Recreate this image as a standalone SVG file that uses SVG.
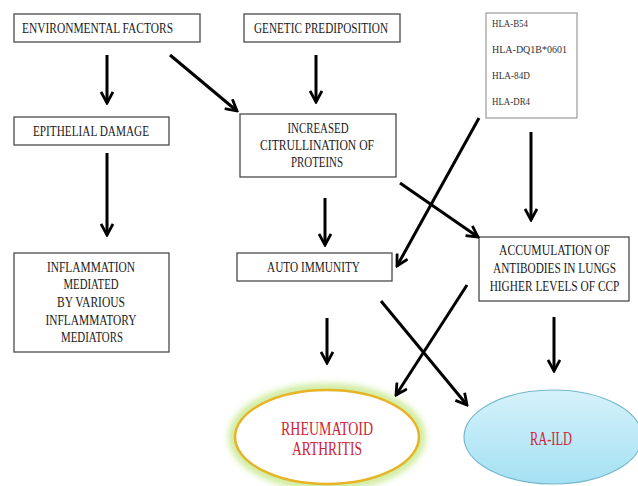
<svg xmlns="http://www.w3.org/2000/svg" width="638" height="486" viewBox="0 0 638 486">
<defs>
<style>
.box{fill:#fff;stroke:#4a4a4a;stroke-width:1.3}
.hla{fill:#fff;stroke:#9a9a9a;stroke-width:1.2}
.t{font-family:"Liberation Serif","Times New Roman",serif;font-size:15px;fill:#1a1a1a;text-anchor:middle}
.h{font-family:"Liberation Serif","Times New Roman",serif;font-size:11px;fill:#333}
.r{font-family:"Liberation Serif","Times New Roman",serif;font-size:19px;fill:#cc2436;text-anchor:middle}
.c line{stroke:#000;stroke-width:3;marker-end:url(#ah)}
</style>
<marker id="ah" viewBox="0 0 14 14" refX="12" refY="7" markerWidth="14" markerHeight="14" markerUnits="userSpaceOnUse" orient="auto">
<path d="M1,1 L12,7 L1,13" fill="none" stroke="#000" stroke-width="2.8"/>
</marker>
<linearGradient id="blue" x1="0" y1="0" x2="0" y2="1">
<stop offset="0" stop-color="#d6f2fb"/>
<stop offset="1" stop-color="#a4e1f3"/>
</linearGradient>
<filter id="glow" x="-20%" y="-20%" width="140%" height="140%">
<feGaussianBlur stdDeviation="3"/>
</filter>
</defs>
<rect width="638" height="486" fill="#fff"/>

<g id="env">
<rect class="box" x="14" y="14" width="186" height="28"/>
<text class="t" x="97.5" y="33" textLength="151" lengthAdjust="spacingAndGlyphs">ENVIRONMENTAL  FACTORS</text>
</g>
<g id="gen">
<rect class="box" x="244" y="14" width="156" height="28"/>
<text class="t" x="321" y="33" textLength="134" lengthAdjust="spacingAndGlyphs">GENETIC  PREDIPOSITION</text>
</g>
<g id="hla">
<rect class="hla" x="486" y="13" width="91" height="105"/>
<text class="h" x="492" y="27" textLength="36" lengthAdjust="spacingAndGlyphs">HLA-B54</text>
<text class="h" x="492" y="53" textLength="75" lengthAdjust="spacingAndGlyphs">HLA-DQ1B*0601</text>
<text class="h" x="492" y="79" textLength="38" lengthAdjust="spacingAndGlyphs">HLA-84D</text>
<text class="h" x="492" y="105" textLength="38" lengthAdjust="spacingAndGlyphs">HLA-DR4</text>
</g>
<g id="epi">
<rect class="box" x="14" y="117" width="155" height="28"/>
<text class="t" x="91" y="136" textLength="116" lengthAdjust="spacingAndGlyphs">EPITHELIAL  DAMAGE</text>
</g>
<g id="cit">
<rect class="box" x="240" y="114" width="156" height="63"/>
<text class="t" x="318" y="133" textLength="61" lengthAdjust="spacingAndGlyphs">INCREASED</text>
<text class="t" x="317" y="150" textLength="114" lengthAdjust="spacingAndGlyphs">CITRULLINATION  OF</text>
<text class="t" x="317" y="167" textLength="52" lengthAdjust="spacingAndGlyphs">PROTEINS</text>
</g>
<g id="infl">
<rect class="box" x="14" y="253" width="155" height="99"/>
<text class="t" x="91" y="272" textLength="88" lengthAdjust="spacingAndGlyphs">INFLAMMATION</text>
<text class="t" x="91" y="289" textLength="55" lengthAdjust="spacingAndGlyphs">MEDIATED</text>
<text class="t" x="91" y="307" textLength="68" lengthAdjust="spacingAndGlyphs">BY VARIOUS</text>
<text class="t" x="91" y="325" textLength="91" lengthAdjust="spacingAndGlyphs">INFLAMMATORY</text>
<text class="t" x="92" y="342" textLength="62" lengthAdjust="spacingAndGlyphs">MEDIATORS</text>
</g>
<g id="auto">
<rect class="box" x="237" y="253" width="155" height="28"/>
<text class="t" x="313.5" y="272" textLength="93" lengthAdjust="spacingAndGlyphs">AUTO IMMUNITY</text>
</g>
<g id="accum">
<rect class="box" x="479" y="237" width="150" height="64"/>
<g transform="translate(554.5,0) scale(0.75,1)">
<text class="t" x="0" y="255" textLength="148" lengthAdjust="spacingAndGlyphs">ACCUMULATION  OF</text>
<text class="t" x="0" y="273" textLength="164" lengthAdjust="spacingAndGlyphs">ANTIBODIES  IN LUNGS</text>
<text class="t" x="0" y="291" textLength="173" lengthAdjust="spacingAndGlyphs">HIGHER  LEVELS  OF CCP</text>
</g>
</g>
<g id="ra">
<ellipse cx="327" cy="437" rx="94" ry="49" fill="none" stroke="#cdeb9a" stroke-width="9" filter="url(#glow)"/>
<ellipse cx="327" cy="437" rx="92" ry="47" fill="#fff" stroke="#e6b424" stroke-width="2.5"/>
<text class="r" x="327" y="435" textLength="92" lengthAdjust="spacingAndGlyphs">RHEUMATOID</text>
<text class="r" x="327" y="455" textLength="70" lengthAdjust="spacingAndGlyphs">ARTHRITIS</text>
</g>
<g id="raild">
<ellipse cx="553" cy="437" rx="89" ry="47" fill="url(#blue)" stroke="#72b6ca" stroke-width="1.2"/>
<text class="r" x="551" y="445" textLength="42" lengthAdjust="spacingAndGlyphs">RA-ILD</text>
</g>

<g id="connectors" class="c">
<line x1="107" y1="55" x2="107" y2="103"/>
<line x1="170" y1="55" x2="237" y2="111"/>
<line x1="316" y1="55" x2="316" y2="102"/>
<line x1="531" y1="132" x2="531" y2="220"/>
<line x1="107" y1="153" x2="107" y2="235"/>
<line x1="325" y1="198" x2="325" y2="245"/>
<line x1="479" y1="118" x2="397" y2="266"/>
<line x1="400" y1="183" x2="478" y2="237"/>
<line x1="327" y1="318" x2="327" y2="363"/>
<line x1="381" y1="301" x2="467" y2="405"/>
<line x1="467" y1="285" x2="396" y2="395"/>
<line x1="554" y1="317" x2="554" y2="371"/>
</g>
</svg>
